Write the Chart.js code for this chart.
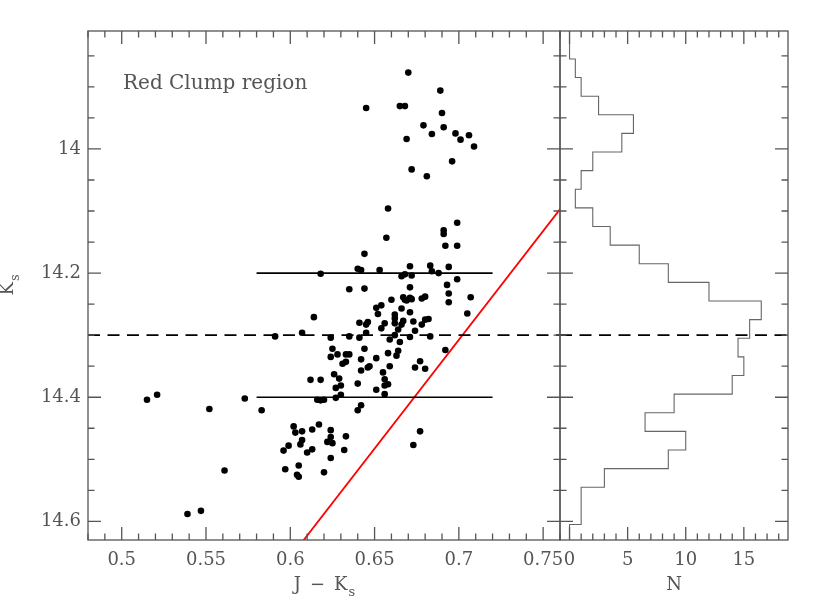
<!DOCTYPE html>
<html>
<head>
<meta charset="utf-8">
<script src="https://cdn.jsdelivr.net/npm/chart.js@4"></script>
<style>
  html, body { margin: 0; padding: 0; background: #fff; }
  #wrap { position: relative; width: 831px; height: 615px; }
  #wrap canvas { position: absolute; left: 0; top: 0; }
</style>
</head>
<body>
<div id="wrap">
  <canvas id="cmdChart" width="831" height="615"></canvas>
  <canvas id="histChart" width="831" height="615"></canvas>
</div>
<script>
// J-Ks colour and Ks magnitude of the stars in the red clump box
const jk = [
  0.670, 0.689, 0.645, 0.665, 0.668, 0.690, 0.679, 0.691, 0.684, 0.698, 0.706, 0.669,
  0.701, 0.709, 0.696, 0.672, 0.681, 0.658, 0.699, 0.691, 0.691, 0.657, 0.692, 0.699,
  0.591, 0.515, 0.521, 0.552, 0.573, 0.583,
  0.644, 0.640, 0.642, 0.653, 0.671, 0.683, 0.684, 0.688, 0.694, 0.618, 0.666, 0.668,
  0.672, 0.699, 0.635, 0.644, 0.671, 0.693, 0.694, 0.707, 0.660, 0.667, 0.668, 0.669,
  0.671, 0.672, 0.678, 0.680, 0.694, 0.651, 0.654, 0.652, 0.666, 0.662, 0.662, 0.671,
  0.705, 0.614, 0.641, 0.645, 0.646, 0.656, 0.662, 0.667, 0.673, 0.680, 0.682, 0.678,
  0.654, 0.664, 0.666, 0.674, 0.645, 0.607, 0.624, 0.635, 0.641, 0.662, 0.659, 0.671,
  0.683, 0.665, 0.625, 0.644, 0.692, 0.624, 0.628, 0.633, 0.635, 0.642, 0.651, 0.658,
  0.664, 0.663, 0.631, 0.633, 0.647, 0.646, 0.642, 0.659, 0.674, 0.677, 0.680, 0.626,
  0.629, 0.655, 0.656, 0.612, 0.618, 0.640, 0.627, 0.630, 0.656, 0.658, 0.651, 0.627,
  0.630, 0.656, 0.616, 0.618, 0.620, 0.642, 0.640,
  0.602, 0.603, 0.607, 0.613, 0.617, 0.624, 0.624, 0.633, 0.622, 0.625, 0.607, 0.606,
  0.599, 0.596, 0.613, 0.610, 0.632, 0.624, 0.597, 0.605, 0.604, 0.605, 0.620, 0.561,
  0.539, 0.547, 0.677, 0.673
];
const ks = [
  13.877, 13.906, 13.934, 13.931, 13.931, 13.942, 13.962, 13.965, 13.976, 13.975, 13.978, 13.984,
  13.985, 13.996, 14.020, 14.033, 14.044, 14.096, 14.119, 14.131, 14.137, 14.143, 14.156, 14.156,
  14.302, 14.404, 14.396, 14.419, 14.402, 14.421,
  14.169, 14.193, 14.195, 14.195, 14.189, 14.188, 14.197, 14.200, 14.190, 14.201, 14.205, 14.202,
  14.204, 14.210, 14.226, 14.225, 14.223, 14.219, 14.233, 14.239, 14.243, 14.239, 14.243, 14.244,
  14.240, 14.242, 14.241, 14.238, 14.247, 14.256, 14.252, 14.266, 14.257, 14.267, 14.273, 14.263,
  14.265, 14.271, 14.280, 14.283, 14.279, 14.281, 14.281, 14.277, 14.278, 14.275, 14.274, 14.283,
  14.289, 14.291, 14.283, 14.293, 14.296, 14.296, 14.304, 14.302, 14.304, 14.300, 14.307, 14.303,
  14.302, 14.311, 14.322, 14.322, 14.324, 14.335, 14.331, 14.331, 14.331, 14.339, 14.337, 14.329,
  14.325, 14.333, 14.346, 14.343, 14.350, 14.352, 14.357, 14.350, 14.352, 14.342, 14.354, 14.363,
  14.370, 14.360, 14.371, 14.372, 14.372, 14.378, 14.385, 14.381, 14.381, 14.379, 14.388, 14.401,
  14.396, 14.395, 14.404, 14.405, 14.404, 14.413, 14.421,
  14.447, 14.457, 14.455, 14.452, 14.444, 14.453, 14.464, 14.463, 14.472, 14.474, 14.469, 14.476,
  14.478, 14.486, 14.484, 14.489, 14.485, 14.498, 14.516, 14.510, 14.525, 14.528, 14.521, 14.518,
  14.588, 14.583, 14.455, 14.477
];

// Ks histogram, 0.03 mag bins
const binCentres = [
  13.87, 13.90, 13.93, 13.96, 13.99, 14.02, 14.05, 14.08, 14.11, 14.14, 14.17, 14.20, 14.23,
  14.26, 14.29, 14.32, 14.35, 14.38, 14.41, 14.44, 14.47, 14.50, 14.53, 14.56, 14.59
];
const binCounts = [
  0.5, 1, 2.5, 5.5, 4.5, 2, 1, 0.5, 2, 3.5, 6, 8.5, 12,
  16.5, 15.5, 14.5, 15, 14, 9, 6.5, 10, 8.5, 3, 1, 1
];
const binWidth = 0.03;

const clumpLimits = [14.2, 14.4];    // solid lines
const clumpColours = [0.58, 0.72];   // colour range of the solid lines
const clumpPeak = 14.3;              // dashed line
const redLineJK = [0.60, 0.77];
const redLineKs = [14.658, 14.062];

const jkRange = [0.48, 0.76];
const ksRange = [13.81, 14.63];
const nRange = [-0.82, 18.8];

const jkTicks = [0.5, 0.55, 0.6, 0.65, 0.7, 0.75];
const ksTicks = [14, 14.2, 14.4, 14.6];
const nTicks = [0, 5, 10, 15];

const FONT = '"DejaVu Serif"';
const textColour = '#555';

function intSteps(lo, hi, step) {
  const out = [];
  for (let k = Math.ceil(lo / step - 1e-9); k * step <= hi + 1e-9; k++) out.push(k);
  return out;
}

// box round the plot with inward ticks on all four sides
const frameTicks = {
  id: 'frameTicks',
  afterDraw(chart, args, o) {
    const { ctx, chartArea: a } = chart;
    const xs = chart.scales.x, ys = chart.scales.y;
    ctx.save();
    ctx.strokeStyle = '#555';
    ctx.lineWidth = 1.3;
    ctx.strokeRect(a.left, a.top, a.right - a.left, a.bottom - a.top);
    ctx.beginPath();
    intSteps(xs.min, xs.max, o.xStep).forEach(k => {
      const px = xs.getPixelForValue(k * o.xStep);
      const len = k % o.xMajor === 0 ? 13 : 6.5;
      ctx.moveTo(px, a.bottom); ctx.lineTo(px, a.bottom - len);
      ctx.moveTo(px, a.top); ctx.lineTo(px, a.top + len);
    });
    intSteps(ys.min, ys.max, o.yStep).forEach(k => {
      const py = ys.getPixelForValue(k * o.yStep);
      const len = k % o.yMajor === 0 ? 13 : 6.5;
      ctx.moveTo(a.left, py); ctx.lineTo(a.left + len, py);
      ctx.moveTo(a.right, py); ctx.lineTo(a.right - len, py);
    });
    ctx.stroke();
    ctx.restore();
  }
};

function subText(ctx, cx, cy, main, sub, size) {
  ctx.font = size + 'px ' + FONT;
  const w1 = ctx.measureText(main).width;
  ctx.font = Math.round(size * 0.7) + 'px ' + FONT;
  const w2 = ctx.measureText(sub).width;
  const x0 = cx - (w1 + w2) / 2;
  ctx.textAlign = 'left';
  ctx.textBaseline = 'alphabetic';
  ctx.font = size + 'px ' + FONT;
  ctx.fillText(main, x0, cy);
  ctx.font = Math.round(size * 0.7) + 'px ' + FONT;
  ctx.fillText(sub, x0 + w1 + 1, cy + size * 0.32);
}

const cmdText = {
  id: 'cmdText',
  afterDraw(chart) {
    const { ctx, chartArea: a } = chart;
    ctx.save();
    ctx.fillStyle = textColour;
    ctx.font = '20px ' + FONT;
    ctx.textAlign = 'left';
    ctx.textBaseline = 'alphabetic';
    ctx.fillText('Red Clump region', a.left + 35, a.top + 58);
    subText(ctx, (a.left + a.right) / 2, 590, 'J\u2002\u2212\u2002K', 's', 18);
    ctx.translate(13, (a.top + a.bottom) / 2);
    ctx.rotate(-Math.PI / 2);
    subText(ctx, 0, 0, 'K', 's', 18);
    ctx.restore();
  }
};

const histText = {
  id: 'histText',
  afterDraw(chart) {
    const { ctx, chartArea: a } = chart;
    ctx.save();
    ctx.fillStyle = textColour;
    ctx.font = '18px ' + FONT;
    ctx.textAlign = 'center';
    ctx.textBaseline = 'alphabetic';
    ctx.fillText('N', (a.left + a.right) / 2, 590);
    ctx.restore();
  }
};

function fixedTicks(values) {
  return scale => { scale.ticks = values.map(v => ({ value: v })); };
}

function axis(range, values, pad, extra) {
  return Object.assign({
    type: 'linear',
    min: range[0],
    max: range[1],
    afterBuildTicks: fixedTicks(values),
    grid: { display: false, drawTicks: false },
    border: { display: false },
    ticks: {
      color: textColour,
      font: { family: 'DejaVu Serif', size: 18 },
      padding: pad,
      maxRotation: 0,
      autoSkip: false,
      callback: v => String(+v.toFixed(2))
    }
  }, extra);
}

// points of the step outline, built from the bins
const histPath = [{ x: 0, y: ksRange[0] - 0.05 }, { x: 0, y: binCentres[0] - binWidth / 2 }];
binCentres.forEach((c, i) => {
  histPath.push({ x: binCounts[i], y: c - binWidth / 2 });
  histPath.push({ x: binCounts[i], y: c + binWidth / 2 });
});
histPath.push({ x: 0, y: binCentres[binCentres.length - 1] + binWidth / 2 });
histPath.push({ x: 0, y: ksRange[1] + 0.05 });

const lineSet = (data, colour, width, dash) => ({
  type: 'scatter',
  data,
  showLine: true,
  borderColor: colour,
  borderWidth: width,
  borderDash: dash || [],
  pointRadius: 0,
  clip: 0
});

new Chart(document.getElementById('cmdChart'), {
  type: 'scatter',
  data: {
    datasets: [
      {
        data: jk.map((v, i) => ({ x: v, y: ks[i] })),
        pointRadius: 3.3,
        pointBackgroundColor: '#000',
        pointBorderWidth: 0,
        clip: 0
      },
      ...clumpLimits.map(m => lineSet(clumpColours.map(c => ({ x: c, y: m })), '#000', 1.6)),
      lineSet(jkRange.map(c => ({ x: c, y: clumpPeak })), '#000', 1.8, [12, 7.5]),
      lineSet(redLineJK.map((c, i) => ({ x: c, y: redLineKs[i] })), '#ff0000', 1.8)
    ]
  },
  options: {
    responsive: false,
    animation: false,
    events: [],
    layout: { padding: { left: 0, top: 31, right: 271, bottom: 0 } },
    plugins: {
      legend: { display: false },
      tooltip: { enabled: false },
      frameTicks: { xStep: 0.01, xMajor: 5, yStep: 0.05, yMajor: 4 }
    },
    scales: {
      x: axis(jkRange, jkTicks, 10, {
        afterFit: s => { s.height = 75; }
      }),
      y: axis(ksRange, ksTicks, 7, {
        reverse: true,
        afterFit: s => { s.width = 88; }
      })
    }
  },
  plugins: [frameTicks, cmdText]
});

new Chart(document.getElementById('histChart'), {
  type: 'scatter',
  data: {
    datasets: [
      lineSet(histPath, '#666', 1.1),
      lineSet(nRange.map(n => ({ x: n, y: clumpPeak })), '#000', 1.8, [12, 7.5])
    ]
  },
  options: {
    responsive: false,
    animation: false,
    events: [],
    layout: { padding: { left: 560, top: 31, right: 43, bottom: 0 } },
    plugins: {
      legend: { display: false },
      tooltip: { enabled: false },
      frameTicks: { xStep: 1, xMajor: 5, yStep: 0.05, yMajor: 4 }
    },
    scales: {
      x: axis(nRange, nTicks, 10, {
        afterFit: s => { s.height = 75; }
      }),
      y: axis(ksRange, ksTicks, 7, {
        reverse: true,
        display: false
      })
    }
  },
  plugins: [frameTicks, histText]
});
</script>
</body>
</html>
